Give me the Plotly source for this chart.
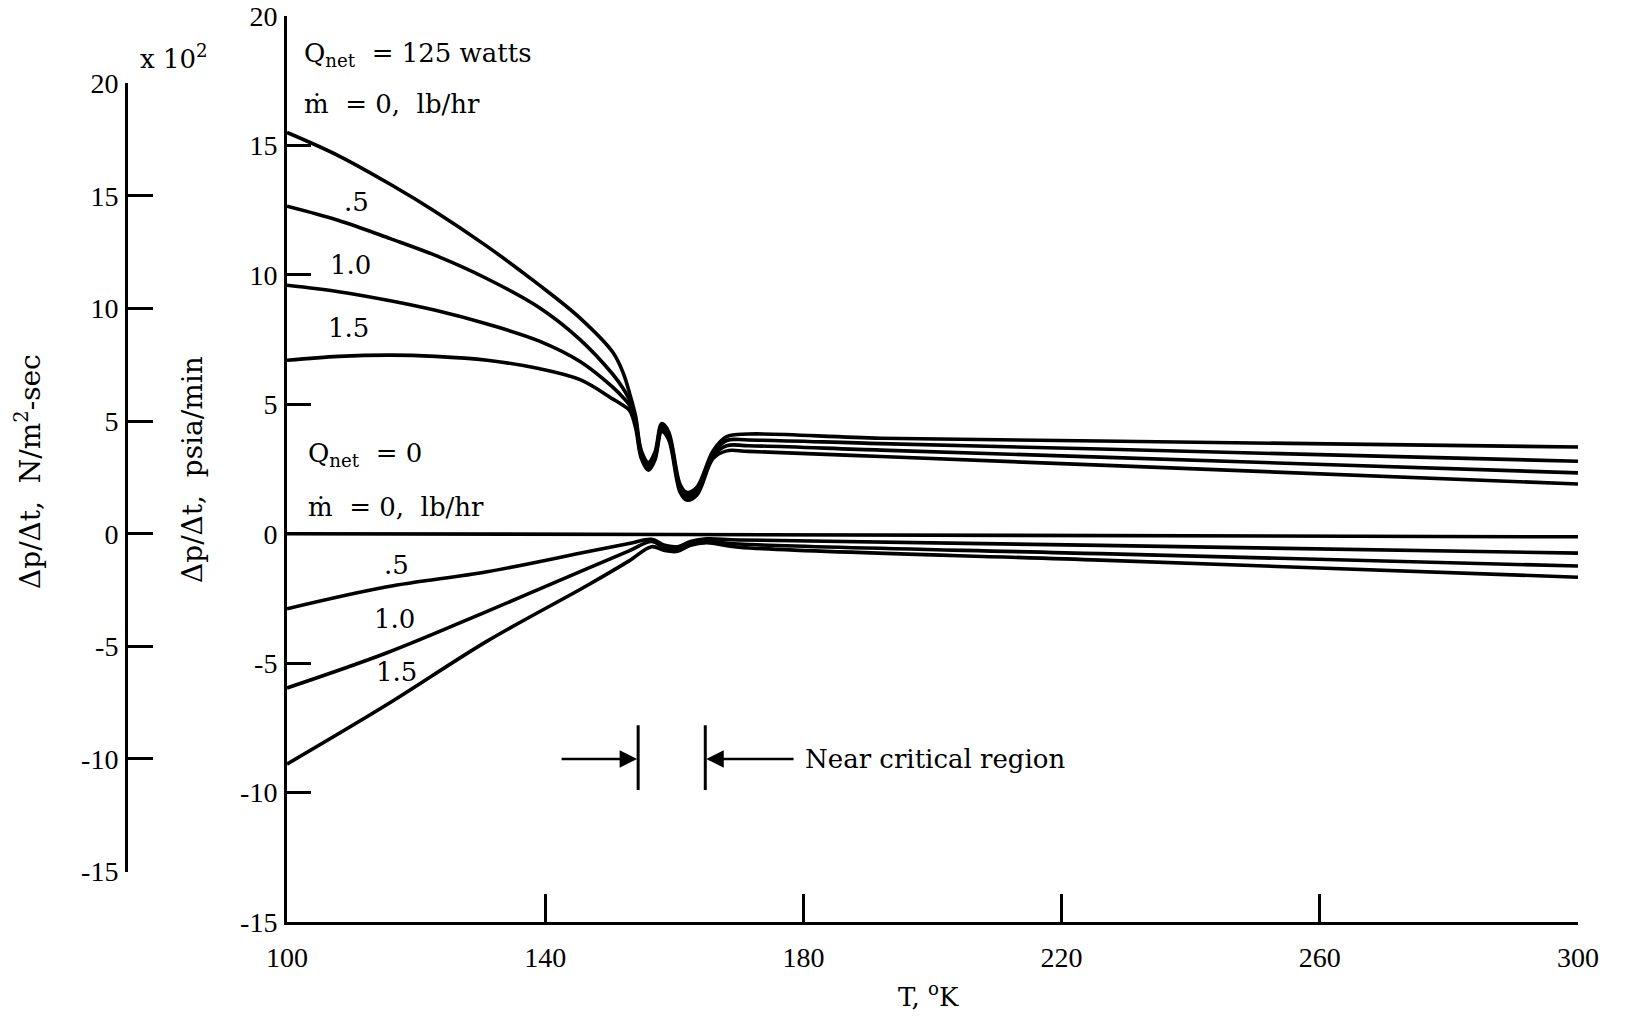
import plotly.graph_objects as go

# Temperature, deg K, and pressure-rise rate, psia/min
# Q_net = 125 watts, outflow rates 0, .5, 1.0, 1.5 lb/hr
t_heat = [100, 108, 116, 123, 131, 139, 145.4, 150.5, 152.1, 153.1, 154.0, 154.9, 156.0,
          157.0, 158.05, 159.1, 160.9, 161.9, 163.5, 166.0, 168.1, 171.5, 192, 226, 300]
heat_m00 = [15.5, 14.6, 13.5, 12.44, 11.1, 9.62, 8.33, 7.0, 6.2, 5.4, 4.55, 3.2, 2.75,
            3.15, 4.25, 3.95, 1.9, 1.6, 1.8, 3.2, 3.75, 3.85, 3.69, 3.58, 3.35]
heat_m05 = [12.65, 12.1, 11.4, 10.75, 9.85, 8.75, 7.5, 6.15, 5.6, 5.15, 4.4, 3.1, 2.65,
            3.05, 4.15, 3.85, 1.8, 1.5, 1.7, 3.1, 3.6, 3.62, 3.48, 3.27, 2.8]
heat_m10 = [9.6, 9.35, 9.0, 8.63, 8.1, 7.45, 6.65, 5.65, 5.25, 4.95, 4.25, 3.0, 2.55,
            2.95, 4.05, 3.75, 1.7, 1.4, 1.6, 3.0, 3.4, 3.4, 3.23, 2.96, 2.35]
heat_m15 = [6.7, 6.85, 6.9, 6.85, 6.7, 6.38, 5.95, 5.2, 4.95, 4.75, 4.1, 2.9, 2.45,
            2.85, 3.95, 3.65, 1.6, 1.3, 1.5, 2.9, 3.2, 3.18, 2.98, 2.65, 1.92]

# Q_net = 0
t_zero_m00 = [100, 160, 300]
zero_m00 = [0.0, -0.03, -0.12]
t_zero = [100, 115.5, 131, 146.5, 153, 156.5, 158.5, 160.5, 162.5, 165, 170, 226, 300]
zero_m05 = [-2.9, -2.05, -1.47, -0.7, -0.38, -0.22, -0.45, -0.5, -0.3, -0.2, -0.24, -0.45, -0.75]
zero_m10 = [-5.96, -4.6, -3.0, -1.35, -0.66, -0.3, -0.55, -0.6, -0.4, -0.3, -0.4, -0.77, -1.25]
zero_m15 = [-8.9, -6.6, -4.15, -2.0, -1.05, -0.5, -0.65, -0.68, -0.45, -0.35, -0.52, -1.02, -1.68]

# Axis ticks
x_ticks = [100, 140, 180, 220, 260, 300]
y_ticks = [-15, -10, -5, 0, 5, 10, 15, 20]
y_tick_text = ["-15", "-10", "-5", "0", "5", "10", "15", "20"]
si_ticks = [-15, -10, -5, 0, 5, 10, 15, 20]  # x 10^2 N/m^2-sec
si_tick_text = ["-15", "-10", "-5", "0", "5", "10", "15", "20"]

# Near-critical region bounds, deg K
crit_lo, crit_hi = 154.4, 164.8

# 1 psia/min in units of 10^2 N/m^2-sec
PSIA_MIN_TO_SI = 6894.757 / 60.0 / 100.0

Y_MIN, Y_MAX = -15, 20
TICK_FONT = "Liberation Serif"
TEXT_FONT = "DejaVu Serif"
W, H = 1625, 1016
ML, MR, MT, MB = 0, 47, 16, 94
PW = W - ML - MR
PH = H - MT - MB
X_LEFT_PX = 287
SI_AXIS_PX = 126

fig = go.Figure()

line_style = dict(color="black", width=3.6, shape="spline", smoothing=1.0)
for t, v in [(t_heat, heat_m00), (t_heat, heat_m05), (t_heat, heat_m10), (t_heat, heat_m15),
             (t_zero_m00, zero_m00), (t_zero, zero_m05), (t_zero, zero_m10), (t_zero, zero_m15)]:
    fig.add_trace(go.Scatter(x=t, y=v, mode="lines", line=line_style,
                             showlegend=False, hoverinfo="skip"))

# carrier trace for the SI-unit scale
fig.add_trace(go.Scatter(x=[None], y=[None], xaxis="x", yaxis="y2",
                         showlegend=False, hoverinfo="skip"))

# SI axis domain follows from the unit conversion so that both scales agree
si_lo = si_ticks[0] / PSIA_MIN_TO_SI
si_hi = si_ticks[-1] / PSIA_MIN_TO_SI
dom_lo = (si_lo - Y_MIN) / (Y_MAX - Y_MIN)
dom_hi = (si_hi - Y_MIN) / (Y_MAX - Y_MIN)

axis_common = dict(showgrid=False, zeroline=False, showline=True, linecolor="black",
                   linewidth=3, ticks="inside", tickcolor="black", tickwidth=3,
                   tickfont=dict(family=TICK_FONT, size=28, color="black"))

fig.update_layout(
    width=W, height=H,
    margin=dict(l=ML, r=MR, t=MT, b=MB, autoexpand=False),
    paper_bgcolor="white", plot_bgcolor="rgba(0,0,0,0)",
    xaxis=dict(domain=[X_LEFT_PX / PW, 1], range=[100, 300], tickvals=x_ticks,
               ticklen=28, ticklabelstandoff=8, anchor="y", **axis_common),
    yaxis=dict(range=[Y_MIN, Y_MAX], tickvals=y_ticks, ticktext=y_tick_text, ticklen=24,
               ticklabelstandoff=1, anchor="x", **axis_common),
    yaxis2=dict(domain=[dom_lo, dom_hi], range=[si_ticks[0], si_ticks[-1]],
                tickvals=si_ticks, ticktext=si_tick_text, ticklen=25, ticklabelstandoff=1,
                anchor="free", position=SI_AXIS_PX / PW, side="left", **axis_common),
)

txt = dict(family=TEXT_FONT, size=26, color="black")
title_font = dict(family=TEXT_FONT, size=28, color="black")


def label(x, y, text, xanchor="left"):
    fig.add_annotation(x=x, y=y, xref="x", yref="y", text=text, showarrow=False,
                       xanchor=xanchor, yanchor="middle", font=txt)


def paper_text(px, py, text, angle=0, font=txt):
    fig.add_annotation(x=px / PW, y=(H - MB - py) / PH, xref="paper", yref="paper",
                       text=text, textangle=angle, showarrow=False, font=font,
                       xanchor="center", yanchor="middle")


label(102.4, 18.5, "Q<sub>net</sub>\u00a0 = 125 watts")
label(102.4, 16.6, "\u1e41\u00a0 = 0,\u00a0 lb/hr")
label(110.7, 12.8, ".5", "center")
label(109.9, 10.4, "1.0", "center")
label(109.6, 7.95, "1.5", "center")

label(102.9, 3.05, "Q<sub>net</sub>\u00a0 = 0")
label(102.9, 1.05, "\u1e41\u00a0 = 0,\u00a0 lb/hr")
label(116.9, -1.2, ".5", "center")
label(116.6, -3.3, "1.0", "center")
label(117.0, -5.35, "1.5", "center")

# near-critical region marker
for tc in (crit_lo, crit_hi):
    fig.add_shape(type="line", xref="x", yref="y", x0=tc, x1=tc, y0=-7.4, y1=-9.9,
                  line=dict(color="black", width=3))
arrow_y = -8.7
fig.add_annotation(x=crit_lo, y=arrow_y, ax=142.3, ay=arrow_y, xref="x", yref="y",
                   axref="x", ayref="y", showarrow=True, arrowhead=2, arrowsize=1.4,
                   arrowwidth=2.5, arrowcolor="black", standoff=1, text="")
fig.add_annotation(x=crit_hi, y=arrow_y, ax=178.7, ay=arrow_y, xref="x", yref="y",
                   axref="x", ayref="y", showarrow=True, arrowhead=2, arrowsize=1.4,
                   arrowwidth=2.5, arrowcolor="black", standoff=1, text="")
label(180.0, arrow_y, "Near critical region")

# axis titles
paper_text(192, 470, "\u0394p/\u0394t,\u00a0 psia/min", -90, title_font)
paper_text(28, 472, "\u0394p/\u0394t,\u00a0 N/m<sup>2</sup>-sec", -90, title_font)
paper_text(174, 57, "x 10<sup>2</sup>")
paper_text(928, 995, "T, <sup>o</sup>K")

fig.write_html("out.html")
